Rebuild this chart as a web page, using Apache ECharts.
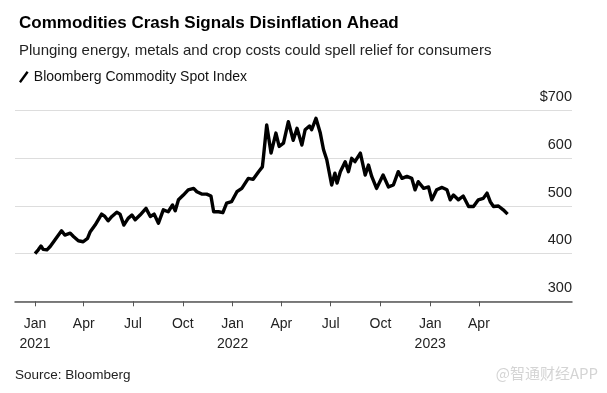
<!DOCTYPE html>
<html>
<head>
<meta charset="utf-8">
<script src="https://cdn.jsdelivr.net/npm/echarts@6/dist/echarts.min.js"></script>
<style>
html,body{margin:0;padding:0;background:#fff;}
#c{width:607px;height:393px;}
</style>
</head>
<body>
<div id="c"></div>
<script>
const dates = [
'2021-01-01','2021-01-07','2021-01-12','2021-01-16','2021-01-23','2021-01-29','2021-02-07','2021-02-19','2021-02-25','2021-03-07',
'2021-03-13','2021-03-22','2021-03-31','2021-04-08','2021-04-13','2021-04-22','2021-05-04','2021-05-10','2021-05-16','2021-05-23',
'2021-06-01','2021-06-07','2021-06-14','2021-06-22','2021-06-29','2021-07-05','2021-07-14','2021-07-25','2021-08-02','2021-08-09',
'2021-08-17','2021-08-26','2021-09-04','2021-09-12','2021-09-17','2021-09-23','2021-10-02','2021-10-11','2021-10-21','2021-10-27',
'2021-11-05','2021-11-14','2021-11-22','2021-11-27','2021-12-06','2021-12-14','2021-12-21','2021-12-30','2022-01-09','2022-01-18',
'2022-01-30','2022-02-08','2022-02-18','2022-02-25','2022-02-27','2022-03-05','2022-03-13','2022-03-22','2022-03-28','2022-04-05',
'2022-04-14','2022-04-23','2022-04-30','2022-05-09','2022-05-15','2022-05-23','2022-05-27','2022-06-04','2022-06-12','2022-06-18',
'2022-06-24','2022-07-03','2022-07-09','2022-07-13','2022-07-19','2022-07-28','2022-08-03','2022-08-09','2022-08-15','2022-08-25',
'2022-09-03','2022-09-09','2022-09-15','2022-09-24','2022-10-06','2022-10-16','2022-10-25','2022-11-03','2022-11-10','2022-11-19',
'2022-11-28','2022-12-04','2022-12-10','2022-12-20','2022-12-29','2023-01-04','2023-01-13','2023-01-23','2023-02-01','2023-02-07',
'2023-02-13','2023-02-22','2023-03-03','2023-03-13','2023-03-22','2023-03-31','2023-04-09','2023-04-16','2023-04-22','2023-04-28',
'2023-05-07','2023-05-16','2023-05-24'
];
const values = [
400,408,416,409,408,415,429,448,439,443,
436,427,425,432,446,460,483,478,469,478,
487,483,460,474,481,471,481,495,478,483,
464,492,488,502,490,513,523,534,537,530,
525,525,521,488,488,486,506,509,530,537,
558,556,572,582,603,670,611,653,625,632,
677,638,663,628,660,668,660,684,653,618,
597,544,569,548,572,593,572,600,593,611,
565,586,562,537,565,540,544,572,558,562,
558,534,551,537,540,513,534,539,534,513,
523,513,521,499,499,513,516,527,509,499,
500,492,483
];
const tickDates = ['2021-01-01','2021-04-01','2021-07-01','2021-10-01','2022-01-01','2022-04-01','2022-07-01','2022-10-01','2023-01-01','2023-04-01'];
const axisStart = '2020-11-25';
const axisEnd = '2023-09-20';
const monthNames = ['Jan','Feb','Mar','Apr','May','Jun','Jul','Aug','Sep','Oct','Nov','Dec'];

function ts(s){ const p = s.split('-').map(Number); return Date.UTC(p[0], p[1]-1, p[2]); }

const FONT = '"Liberation Sans", Arial, sans-serif';
const chart = echarts.init(document.getElementById('c'), null, {renderer:'canvas'});
const tickTs = tickDates.map(ts);

chart.setOption({
  animation:false,
  backgroundColor:'#fff',
  title:{
    text:'Commodities Crash Signals Disinflation Ahead',
    subtext:'Plunging energy, metals and crop costs could spell relief for consumers',
    left:14, top:10, itemGap:11,
    textStyle:{fontFamily:FONT, fontSize:17, fontWeight:'bold', color:'#000'},
    subtextStyle:{fontFamily:FONT, fontSize:15, color:'#222'}
  },
  legend:{
    left:14, top:65,
    icon:'path://M0,11 L8,0 L10,1.5 L2,12.5 Z',
    itemWidth:10, itemHeight:12, itemGap:10,
    textStyle:{fontFamily:FONT, fontSize:14, color:'#111'},
    data:['Bloomberg Commodity Spot Index']
  },
  grid:{left:15, right:35, top:110.7, bottom:91.7},
  xAxis:{
    type:'value',
    min:ts(axisStart), max:ts(axisEnd),
    axisLine:{show:true, lineStyle:{color:'#555', width:1.5}},
    axisTick:{show:true, length:5, lineStyle:{color:'#555', width:1}, customValues:tickTs},
    splitLine:{show:false},
    axisLabel:{
      customValues:tickTs,
      margin:13, lineHeight:20,
      fontFamily:FONT, fontSize:14, color:'#222',
      formatter:function(v){
        const d = new Date(v);
        const m = d.getUTCMonth();
        return m===0 ? monthNames[m]+'\n'+d.getUTCFullYear() : monthNames[m];
      }
    }
  },
  yAxis:{
    type:'value', position:'right',
    min:300, max:700, interval:100,
    axisLine:{show:false}, axisTick:{show:false},
    splitLine:{lineStyle:{color:'#ddd', width:1.2}},
    axisLabel:{
      inside:true, margin:0, verticalAlign:'bottom', padding:[0,0,6,0],
      fontFamily:FONT, fontSize:14.5, color:'#222',
      formatter:function(v){ return v===700 ? '$'+v : String(v); }
    }
  },
  graphic:[
    {type:'text', left:15, top:368, style:{text:'Source: Bloomberg', fontFamily:FONT, fontSize:13.5, fill:'#222'}},
    {type:'text', right:9, top:366, style:{text:'@智通财经APP', fontFamily:'"Noto Sans CJK SC", sans-serif', fontSize:15, fill:'#d4d4d4'}}
  ],
  series:[{
    name:'Bloomberg Commodity Spot Index',
    type:'line',
    data:dates.map((d,i)=>[ts(d), values[i]]),
    showSymbol:false,
    lineStyle:{color:'#000', width:3.4, join:'round'},
    itemStyle:{color:'#000'}
  }]
});
</script>
</body>
</html>
